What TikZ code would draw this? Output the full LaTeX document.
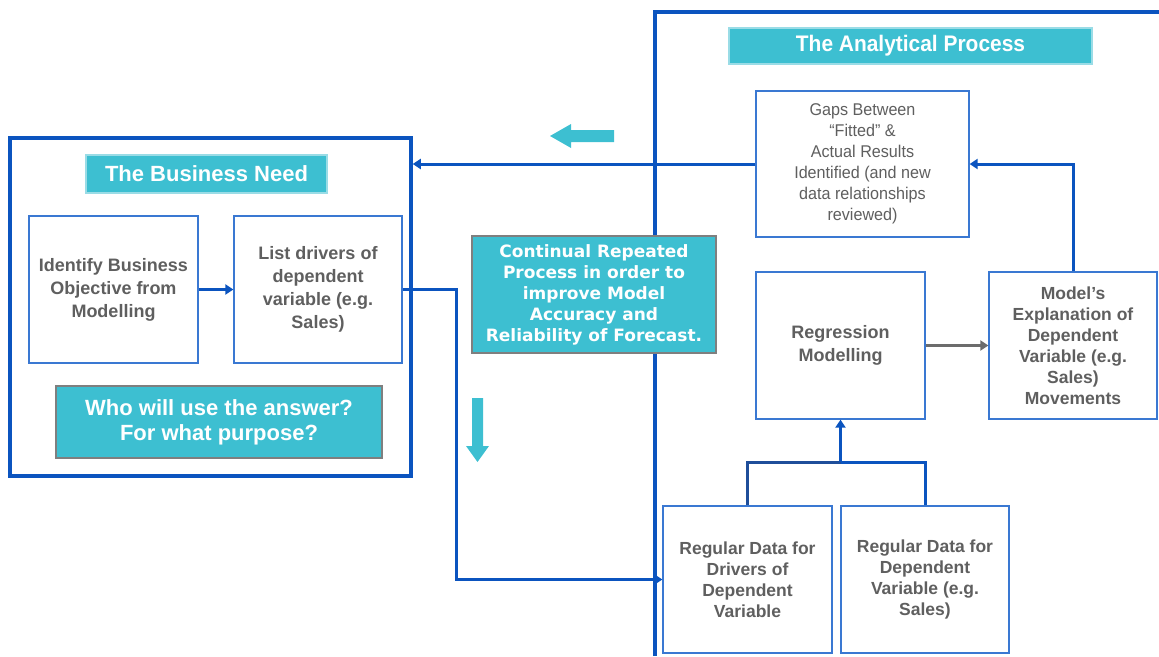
\documentclass[tikz,border=0pt]{standalone}
\usepackage{fontspec}
\setmainfont{Liberation Sans}
\newfontfamily\narrowfont[FakeStretch=0.93]{Liberation Sans}
\newfontfamily\gapsfont[FakeStretch=0.95]{Liberation Sans}
\newfontfamily\verdfont{DejaVu Sans}
\usetikzlibrary{arrows.meta}
\definecolor{frameblue}{HTML}{0B54BF}
\definecolor{boxblue}{HTML}{3A78D2}
\definecolor{cyanfill}{HTML}{3DBFD1}
\definecolor{cyanedge}{HTML}{9ADCE6}
\definecolor{tagedge}{HTML}{7F7F7F}
\definecolor{txtgray}{HTML}{5F5F5F}
\definecolor{joinblue}{HTML}{1F4E9A}

\begin{document}
\begin{tikzpicture}[x=1pt,y=-1pt,
    frame/.style={draw=frameblue,line width=3.5pt},
    box/.style={draw=boxblue,line width=1.3pt,fill=white,minimum width=169pt,
      minimum height=147pt,align=center,text=txtgray,
      font=\bfseries\fontsize{18}{23}\selectfont},
    tag/.style={fill=cyanfill,draw=tagedge,line width=1.6pt,text=white,align=center},
    title/.style={fill=cyanfill,draw=cyanedge,line width=1.5pt,text=white,align=center},
    link/.style={draw=frameblue,line width=3pt,-{Triangle[length=8pt,width=10pt]}},
    blockarrow/.style={fill=cyanfill,draw=none}]
  \useasboundingbox (0,0) rectangle (1159,656);

  % right frame: the analytical side
  \coordinate (fb) at (655,656);
  \coordinate (ft) at (655,12);
  \coordinate (fr) at (1159,12);
  \draw[frame] (fb) -- (ft) -- (fr);

  % left frame: the business side
  \node[frame,minimum width=401pt,minimum height=338pt] (biz) at (210.5,307) {};
  \node[title,minimum width=241pt,minimum height=38pt,
    font=\bfseries\fontsize{22}{24}\selectfont] (bizttl) at (206.5,174) {The Business Need};
  \node[box] (identify) at (113.5,289.5) {Identify Business\\Objective from\\Modelling};
  \node[box,minimum width=168pt] (list) at (318,289.5) {List drivers of\\dependent\\variable (e.g.\\Sales)};
  \node[tag,minimum width=326pt,minimum height=72pt,
    font=\bfseries\fontsize{22}{25}\selectfont] (who) at (219,422) {Who will use the answer?\\For what purpose?};

  % analytical process
  \node[title,minimum width=363pt,minimum height=36pt,
    font=\narrowfont\bfseries\fontsize{22.5}{24}\selectfont] (anattl) at (910.5,46) {The Analytical Process};
  \node[box,minimum width=213pt,minimum height=146pt,
    font=\gapsfont\fontsize{17}{21}\selectfont] (gaps) at (862.5,164)
    {Gaps Between\\“Fitted” \&\\Actual Results\\Identified (and new\\data relationships\\reviewed)};
  \node[box] (reg) at (840.5,345.5) {Regression\\Modelling};
  \node[box,minimum width=168pt,font=\bfseries\fontsize{17.5}{21}\selectfont] (model) at (1073,345.5)
    {Model’s\\Explanation of\\Dependent\\Variable (e.g.\\Sales)\\Movements};
  \node[box,font=\bfseries\fontsize{17.5}{21}\selectfont] (regdrv) at (747.5,579.5)
    {Regular Data for\\Drivers of\\Dependent\\Variable};
  \node[box,minimum width=168pt,font=\bfseries\fontsize{17.5}{21}\selectfont] (regdep) at (925,579.5)
    {Regular Data for\\Dependent\\Variable (e.g.\\Sales)};

  % the loop in the middle
  \node[tag,minimum width=244pt,minimum height=117pt,
    font=\verdfont\bfseries\fontsize{17}{21}\selectfont] (cont) at (594,294.5)
    {Continual Repeated\\Process in order to\\improve Model\\Accuracy and\\Reliability of Forecast.};

  % connectors
  \draw[link] (identify) -- (list);
  \coordinate (bend) at (456,289.5);
  \draw[link] (list.east) -- (bend) |- (regdrv.west);
  \coordinate (join) at (840.5,462);
  \draw[draw=joinblue,line width=3pt] (regdrv.north) |- (join);
  \draw[draw=frameblue,line width=3pt] (join) -| (regdep.north);
  \draw[link] (join) -- (reg.south);
  \draw[link,draw=gray!85!black] (reg) -- (model);
  \draw[link] (model.north) |- (gaps.east);
  \draw[link] (gaps.west) -- (gaps.west -| biz.east);

  % cyan block arrows
  \fill[blockarrow] (614,130) -- (571,130) -- (571,124) -- (550,136) -- (571,148)
    -- (571,142) -- (614,142) -- cycle;
  \fill[blockarrow] (472,398) -- (483,398) -- (483,446) -- (489,446) -- (477.5,462)
    -- (466,446) -- (472,446) -- cycle;
\end{tikzpicture}
\end{document}
